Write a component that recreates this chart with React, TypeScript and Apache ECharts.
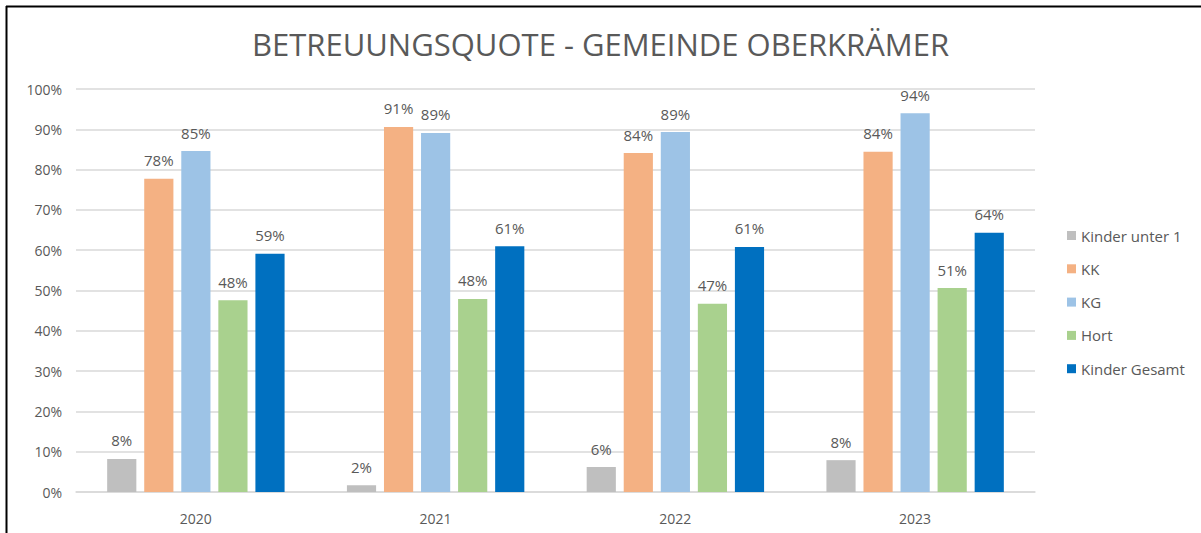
import React, { useEffect, useRef } from "react";
import * as echarts from "echarts";

const categories = ["2020", "2021", "2022", "2023"];
const seriesNames = ["Kinder unter 1", "KK", "KG", "Hort", "Kinder Gesamt"];
const kinderUnter1 = [8.2, 1.7, 6.2, 7.9];
const kk = [77.7, 90.6, 84.1, 84.4];
const kg = [84.6, 89.1, 89.3, 94.0];
const hort = [47.6, 47.9, 46.7, 50.6];
const kinderGesamt = [59.1, 61.0, 60.8, 64.3];
const colors = ["#BFBFBF", "#F4B183", "#9DC3E6", "#A9D18E", "#0070C0"];
const title = "BETREUUNGSQUOTE - GEMEINDE OBERKRÄMER";

const FONT = "'Open Sans', 'Liberation Sans', sans-serif";

export default function App() {
  const ref = useRef<HTMLDivElement>(null);
  useEffect(() => {
    if (!ref.current) return;
    const chart = echarts.init(ref.current, undefined, { renderer: "svg" });
    const data = [kinderUnter1, kk, kg, hort, kinderGesamt];
    chart.setOption({
      animation: false,
      backgroundColor: "#ffffff",
      textStyle: { fontFamily: FONT },
      title: {
        text: title,
        left: "center",
        top: 23,
        textStyle: { fontFamily: FONT, fontSize: 31, fontWeight: "normal", color: "#595959" },
      },
      legend: {
        orient: "vertical",
        left: 1062,
        top: 223,
        itemWidth: 9,
        itemHeight: 9,
        itemGap: 18.3,
        icon: "rect",
        data: seriesNames,
        textStyle: { fontFamily: FONT, fontSize: 15, color: "#595959" },
      },
      grid: { left: 76, right: 166, top: 89, bottom: 41, containLabel: false },
      xAxis: {
        type: "category",
        data: categories,
        axisTick: { show: false },
        axisLine: { lineStyle: { color: "#D9D9D9", width: 1.5 } },
        axisLabel: { fontFamily: FONT, fontSize: 14, color: "#595959", margin: 19 },
      },
      yAxis: {
        type: "value",
        min: 0,
        max: 100,
        interval: 10,
        axisLine: { show: false },
        axisTick: { show: false },
        splitLine: { lineStyle: { color: "#D9D9D9", width: 1.5 } },
        axisLabel: {
          fontFamily: FONT,
          fontSize: 14,
          color: "#595959",
          margin: 14,
          formatter: (v: number) => v + "%",
        },
      },
      series: seriesNames.map((name, i) => ({
        name,
        type: "bar",
        data: data[i],
        barGap: "27%",
        barCategoryGap: "26%",
        itemStyle: { color: colors[i] },
        label: {
          show: true,
          position: "top",
          distance: 11,
          fontFamily: FONT,
          fontSize: 15,
          color: "#595959",
          formatter: (p: any) => Math.round(p.value) + "%",
        },
      })),
      graphic: [
        { type: "line", shape: { x1: 6, y1: 6.5, x2: 1201, y2: 6.5 }, style: { stroke: "#000", lineWidth: 2 } },
        { type: "line", shape: { x1: 6.5, y1: 6, x2: 6.5, y2: 533 }, style: { stroke: "#000", lineWidth: 2 } },
      ],
    });
    return () => chart.dispose();
  }, []);
  return (
    <div
      ref={ref}
      style={{ position: "fixed", left: 0, top: 0, width: 1201, height: 533 }}
    />
  );
}
